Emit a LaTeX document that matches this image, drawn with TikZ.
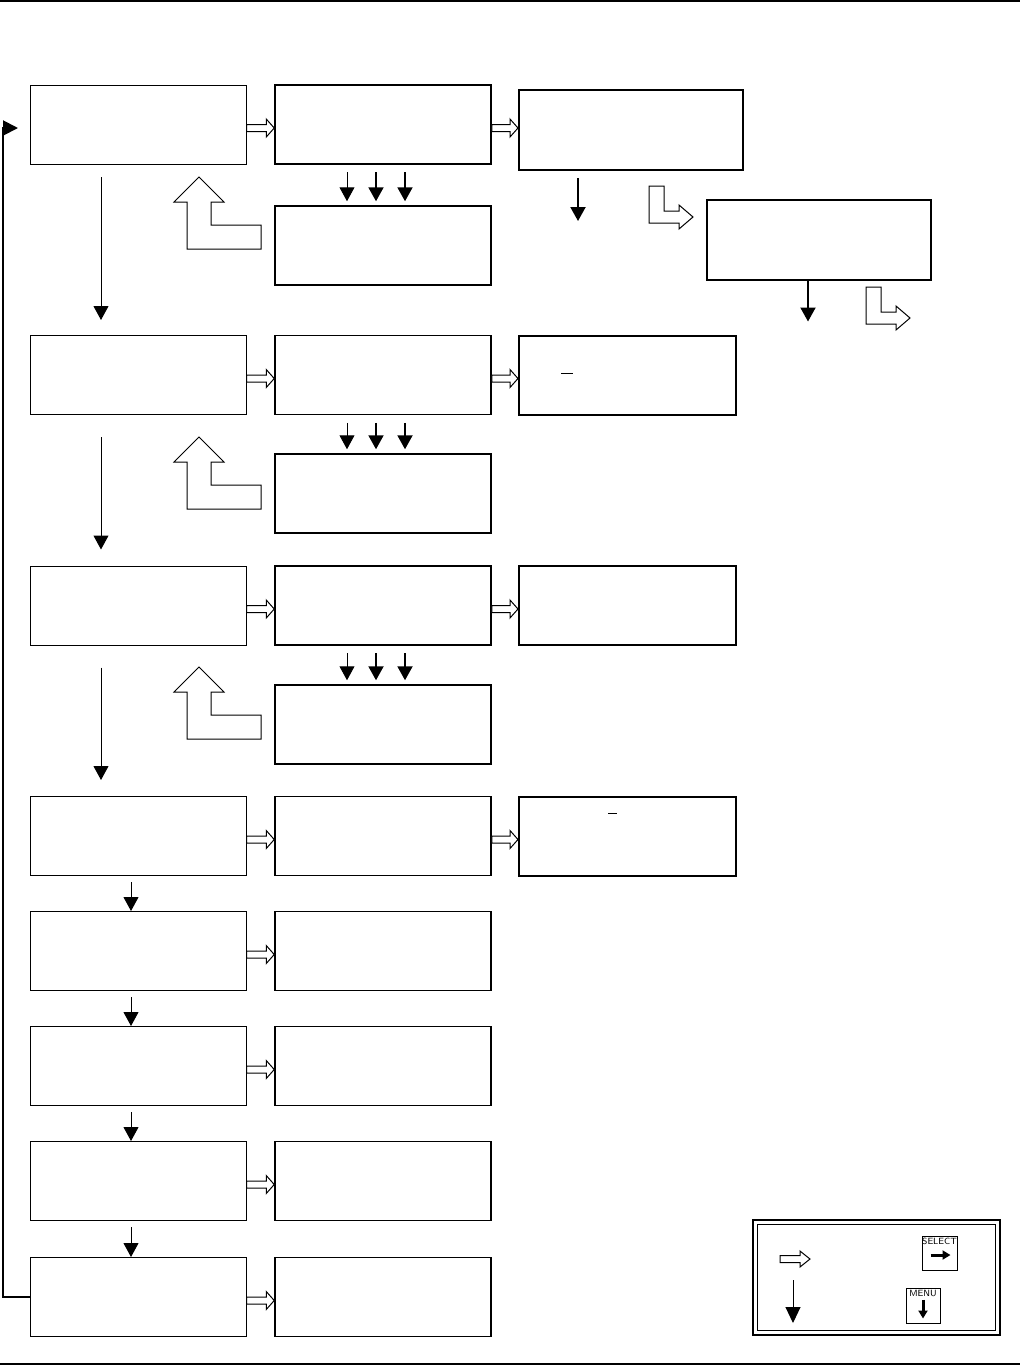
\documentclass[tikz,border=0pt]{standalone}
\usepackage{tikz}
\usetikzlibrary{arrows.meta, positioning, calc}
\newcommand{\selarrow}[2]{%
  \path (#1.east) coordinate (sa) (#2.west |- #1.east) coordinate (sb);
  \draw[Hollow] (sa) -- ($(sb)+(-8,0)$) -- ($(sb)+(-8,-5.5)$) -- ($(sb)+(0,3.5)$)
    -- ($(sb)+(-8,12.5)$) -- ($(sb)+(-8,7)$) -- ($(sa)+(0,7)$) -- cycle;
}
\begin{document}
\begin{tikzpicture}
  [
    x=0.5pt, y=-0.5pt,
    Box/.style={rectangle, draw=black, line width=0.5pt, minimum width=108pt, minimum height=39.5pt, inner sep=0pt},
    Sub/.style={Box, line width=0.75pt},
    Opt/.style={Box, line width=1pt, minimum width=108.5pt},
    Wide/.style={Box, line width=1pt, minimum width=112pt, minimum height=40pt},
    Hollow/.style={draw=black, line width=0.5pt, fill=white, line join=miter},
    Down/.style={-{Triangle[width=7.5pt, length=7pt]}, line width=0.5pt},
    Back/.style={-{Triangle[width=7.5pt, length=7.5pt]}, line width=1pt},
    Key/.style={rectangle, draw=black, line width=0.5pt, minimum width=17.5pt, minimum height=17pt, inner sep=0pt},
    KeyText/.style={font=\fontsize{4.5}{5}\sffamily, inner sep=0.3pt, anchor=north},
    KeyArrow/.style={-{Triangle[width=4.5pt, length=4pt]}, line width=1.5pt}
  ]
  \useasboundingbox (0,0) rectangle (1020,1367);
  \draw[line width=1pt] (0,1) -- (1020,1);
  \draw[line width=1pt] (0,1364) -- (1020,1364);
  % Nodes
  \node[Box] (m1) at (138,124.5) {};
  \node[Box] (m2) at (138,375) {};
  \node[Box] (m3) at (138,605.5) {};
  \node[Box] (m4) at (138,836) {};
  \node[Box] (m5) at (138,951) {};
  \node[Box] (m6) at (138,1066) {};
  \node[Box] (m7) at (138,1181) {};
  \node[Box] (m8) at (138,1297) {};
  \node[Sub] (s1) at (383,124.5) {};
  \node[Sub] (s2) at (383,375) {};
  \node[Sub] (s3) at (383,605.5) {};
  \node[Sub] (s4) at (383,836) {};
  \node[Sub] (s5) at (383,951) {};
  \node[Sub] (s6) at (383,1066) {};
  \node[Sub] (s7) at (383,1181) {};
  \node[Sub] (s8) at (383,1297) {};
  \node[Sub] (e1) at (383,245.5) {};
  \node[Sub] (e2) at (383,493.5) {};
  \node[Sub] (e3) at (383,724.5) {};
  \node[Wide] (o1) at (631,130) {};
  \node[Opt] (o2) at (627.5,375) {};
  \node[Opt] (o3) at (627.5,605.5) {};
  \node[Opt] (o4) at (627.5,836) {};
  \node[Wide] (d1) at (818.5,239.5) {};
  % cursors
  \draw[line width=0.5pt] (561,373) -- (573,373);
  \draw[line width=0.5pt] (608,813) -- (617,813);
  % Lines
  \selarrow{m1}{s1} \selarrow{m2}{s2} \selarrow{m3}{s3} \selarrow{m4}{s4}
  \selarrow{m5}{s5} \selarrow{m6}{s6} \selarrow{m7}{s7} \selarrow{m8}{s8}
  \selarrow{s1}{o1} \selarrow{s2}{o2} \selarrow{s3}{o3} \selarrow{s4}{o4}
  \draw[Down] ($(m1.south)+(-37,12.5)$) -- ($(m2.north)+(-37,-15)$);
  \draw[Down] ($(m2.south)+(-37,22)$) -- ($(m3.north)+(-37,-16)$);
  \draw[Down] ($(m3.south)+(-37,22)$) -- ($(m4.north)+(-37,-16)$);
  \draw[Down] ($(m4.south)+(-7,6)$) -- ($(m5.north)+(-7,0)$);
  \draw[Down] ($(m5.south)+(-7,6)$) -- ($(m6.north)+(-7,0)$);
  \draw[Down] ($(m6.south)+(-7,6)$) -- ($(m7.north)+(-7,0)$);
  \draw[Down] ($(m7.south)+(-7,6)$) -- ($(m8.north)+(-7,0)$);
  \foreach \a/\b in {s1/e1, s2/e2, s3/e3} {
    \draw[Down] ($(\a.south)+(-36,7.5)$) -- ($(\b.north)+(-36,-4)$);
    \draw[Down, line width=1pt] ($(\a.south)+(-7,7.5)$) -- ($(\b.north)+(-7,-4)$);
    \draw[Down, line width=1pt] ($(\a.south)+(22,7.5)$) -- ($(\b.north)+(22,-4)$);
  }
  \draw[Down, line width=1pt] ($(o1.south)+(-53,7)$) -- ++(0,43);
  \draw[Down, line width=1pt] ($(d1.south)+(-10.5,0)$) -- ++(0,41);
  % return line
  \coordinate (top) at (18,128);
  \draw[Back] (m8.west) -- ++(-27,0) |- (top);
  % back arrows
  \foreach \ty in {177,437,667} {
    \draw[Hollow] (199,\ty) -- ++(25,25) -- ++(-13,0) -- ++(0,23) -- ++(50,0)
      -- ++(0,24) -- ++(-74,0) -- ++(0,-47) -- ++(-13,0) -- cycle;
  }
  % option arrows
  \foreach \lx/\ly in {649/186, 866/287} {
    \draw[Hollow] (\lx,\ly) -- ++(0,37) -- ++(30,0) -- ++(0,6) -- ++(14,-12)
      -- ++(-14,-12) -- ++(0,6) -- ++(-15,0) -- ++(0,-25) -- cycle;
  }
  % legend
  \draw[line width=1pt] (753,1220) rectangle (1000,1335);
  \draw[line width=0.5pt] (757.5,1224.5) rectangle (995.5,1330.5);
  \draw[Hollow] (780,1255.5) -- (800,1255.5) -- (800,1251) -- (810,1259) -- (800,1267)
    -- (800,1262.5) -- (780,1262.5) -- cycle;
  \draw[Down, -{Triangle[width=7.5pt, length=8pt]}] (793,1280) -- (793,1323);
  \node[Key] (sel) at (939.5,1253) {};
  \node[KeyText] at ($(sel.north)+(0,1.5)$) {SELECT};
  \draw[KeyArrow] ($(sel.center)+(-9,2)$) -- ($(sel.center)+(11,2)$);
  \node[Key, minimum width=17pt, minimum height=17.5pt] (menu) at (923,1305.5) {};
  \node[KeyText] at ($(menu.north)+(0,1.5)$) {MENU};
  \draw[KeyArrow] ($(menu.center)+(0,-6)$) -- ($(menu.center)+(0,13)$);
\end{tikzpicture}
\end{document}
